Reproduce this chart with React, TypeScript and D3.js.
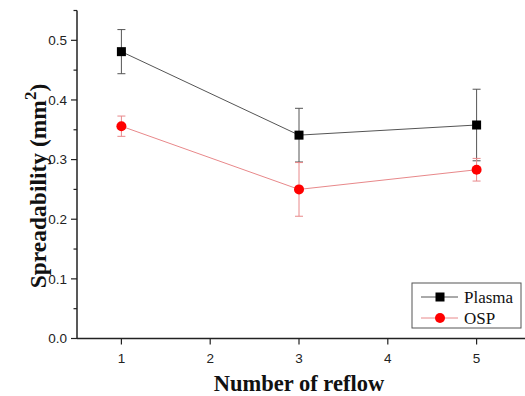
import React from 'react';
import * as d3 from 'd3';

const reflows = [1, 3, 5];
const plasma = [0.481, 0.341, 0.358];
const plasmaErr = [0.037, 0.045, 0.06];
const osp = [0.356, 0.25, 0.283];
const ospErr = [0.017, 0.045, 0.019];
const xTicks = [1, 2, 3, 4, 5];
const yTicks = [0, 0.1, 0.2, 0.3, 0.4, 0.5];
const yMinor = [0.05, 0.15, 0.25, 0.35, 0.45, 0.55];

const W = 525;
const H = 396;
const left = 77;
const right = 521;
const top = 10.5;
const bottom = 338.5;

const App = () => {
  const x = d3.scaleLinear().domain([0.5, 5.5]).range([left, right]);
  const y = d3.scaleLinear().domain([0, 0.55]).range([bottom, top]);

  const series = [
    { name: 'Plasma', vals: plasma, err: plasmaErr, line: '#555555', bar: '#555555', mark: '#000000', shape: 'square' },
    { name: 'OSP', vals: osp, err: ospErr, line: '#e8888a', bar: '#e8888a', mark: '#ff0000', shape: 'circle' },
  ];

  const line = d3.line<number>()
    .x((_, i) => x(reflows[i]))
    .y(d => y(d));

  const marker = (shape: string, cx: number, cy: number, color: string, key: string) =>
    shape === 'square'
      ? <rect key={key} x={cx - 4.5} y={cy - 4.5} width={9} height={9} fill={color} />
      : <circle key={key} cx={cx} cy={cy} r={5} fill={color} />;

  const tickFont = '"Liberation Sans", Arial, sans-serif';
  const titleFont = '"Liberation Serif", "Times New Roman", serif';

  return (
    <div style={{ position: 'absolute', left: 0, top: 0 }}>
      <svg width={W} height={H} style={{ display: 'block', background: '#fff' }}>
        {/* error bars */}
        {series.map(s => (
          <g key={s.name + '-err'} stroke={s.bar} strokeWidth={1}>
            {s.vals.map((v, i) => {
              const cx = x(reflows[i]);
              const y1 = y(v + s.err[i]);
              const y2 = y(v - s.err[i]);
              return (
                <g key={i}>
                  <line x1={cx} x2={cx} y1={y1} y2={y2} />
                  <line x1={cx - 4} x2={cx + 4} y1={y1} y2={y1} />
                  <line x1={cx - 4} x2={cx + 4} y1={y2} y2={y2} />
                </g>
              );
            })}
          </g>
        ))}

        {/* lines + markers */}
        {series.map(s => (
          <g key={s.name}>
            <path d={line(s.vals) || ''} fill="none" stroke={s.line} strokeWidth={1} />
            {s.vals.map((v, i) => marker(s.shape, x(reflows[i]), y(v), s.mark, s.name + i))}
          </g>
        ))}

        {/* axes */}
        <line x1={left} x2={left} y1={top} y2={bottom} stroke="#222" strokeWidth={1.5} />
        <line x1={left} x2={W} y1={bottom} y2={bottom} stroke="#222" strokeWidth={1.5} />

        {yTicks.map(t => (
          <g key={'y' + t}>
            <line x1={left - 6} x2={left} y1={y(t)} y2={y(t)} stroke="#222" strokeWidth={1.2} />
            <text x={left - 10} y={y(t)} dy="0.35em" textAnchor="end" fontSize={13.5} fontFamily={tickFont} fill="#222">
              {t.toFixed(1)}
            </text>
          </g>
        ))}
        {yMinor.map(t => (
          <line key={'ym' + t} x1={left - 3.5} x2={left} y1={y(t)} y2={y(t)} stroke="#222" strokeWidth={1.2} />
        ))}
        {xTicks.map(t => (
          <g key={'x' + t}>
            <line x1={x(t)} x2={x(t)} y1={bottom} y2={bottom + 6} stroke="#222" strokeWidth={1.2} />
            <text x={x(t)} y={bottom + 24} textAnchor="middle" fontSize={13.5} fontFamily={tickFont} fill="#222">
              {t}
            </text>
          </g>
        ))}

        {/* axis titles */}
        <text x={299} y={391} textAnchor="middle" fontSize={22.5} fontWeight="bold" fontFamily={titleFont} fill="#111">
          Number of reflow
        </text>
        <text transform="translate(46, 186) rotate(-90)" textAnchor="middle"
          fontSize={23.5} fontWeight="bold" fontFamily={titleFont} fill="#111">
          Spreadability (mm<tspan fontSize={17} dy={-10}>2</tspan><tspan dy={10}>)</tspan>
        </text>

        {/* legend */}
        <g transform="translate(412, 283)">
          <rect x={0} y={0} width={109} height={45} fill="#fff" stroke="#555" strokeWidth={1} />
          {series.map((s, i) => (
            <g key={'lg' + s.name} transform={`translate(0, ${14 + i * 21})`}>
              <line x1={9} x2={46} y1={0} y2={0} stroke={s.line} strokeWidth={1} />
              {marker(s.shape, 28, 0, s.mark, 'lgm' + s.name)}
              <text x={52} y={0} dy="0.35em" fontSize={17} fontFamily={titleFont} fill="#111">{s.name}</text>
            </g>
          ))}
        </g>
      </svg>
    </div>
  );
};

export default App;
